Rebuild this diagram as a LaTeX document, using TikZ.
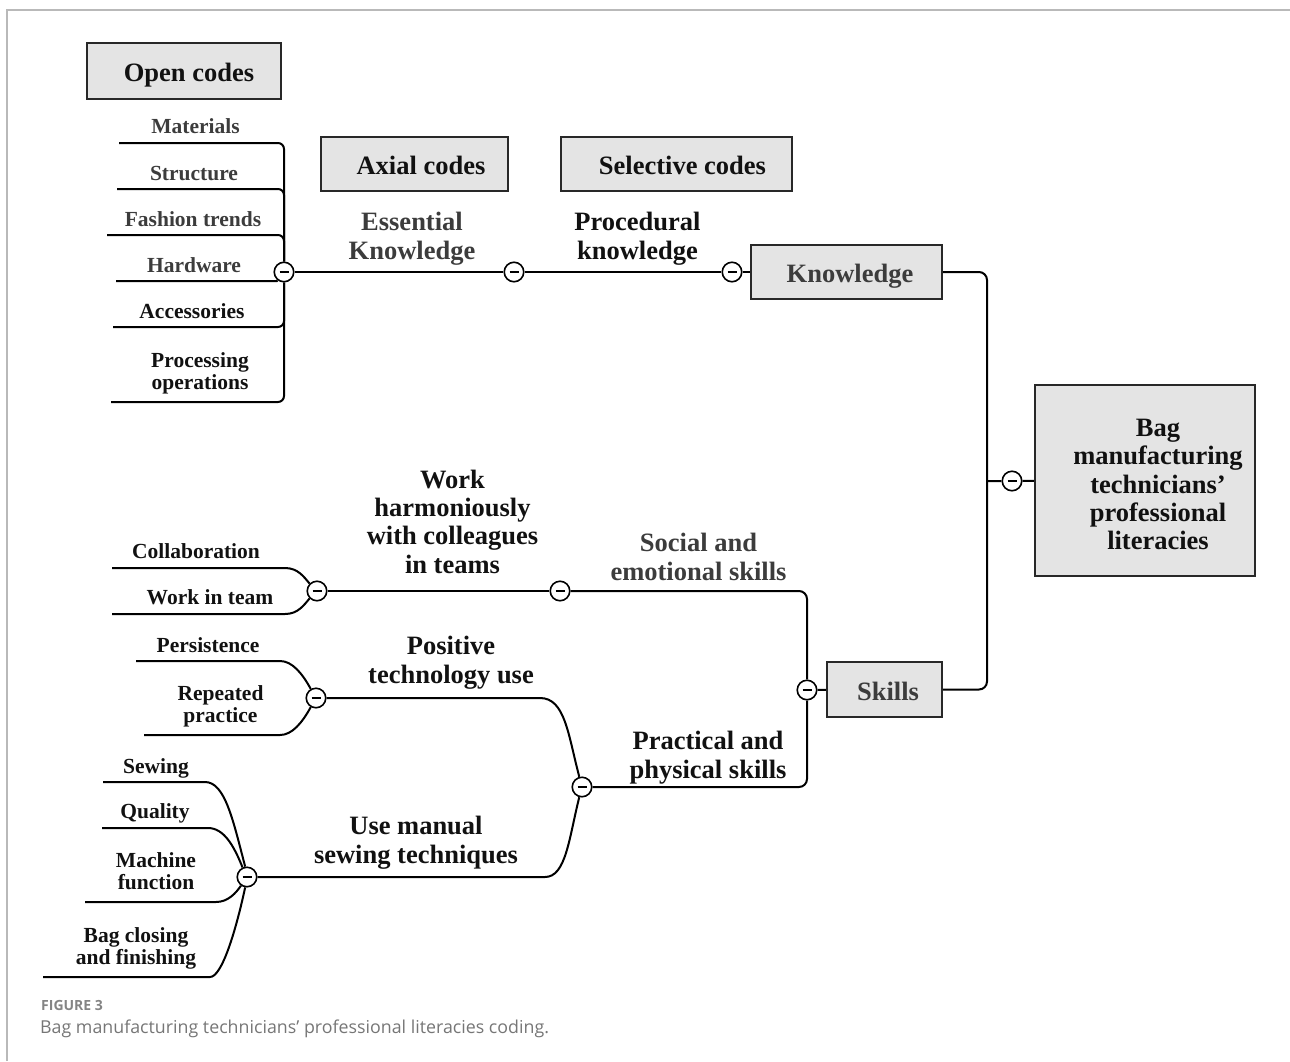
\documentclass[tikz,border=0pt]{standalone}
\usepackage{fontspec}
\setmainfont{Liberation Serif}
\newfontfamily\capfont{Open Sans}
\usetikzlibrary{backgrounds}

\definecolor{boxfill}{RGB}{228,228,228}
\definecolor{boxline}{RGB}{40,40,40}
\definecolor{softink}{RGB}{60,60,60}
\definecolor{ink}{RGB}{17,17,17}
\definecolor{frameline}{RGB}{185,185,185}
\definecolor{captext}{RGB}{118,118,118}

\begin{document}
\begin{tikzpicture}[x=1pt,y=-1pt,
  bigfont/.style={font=\bfseries\fontsize{26.5}{28.3}\selectfont},
  codebox/.style={bigfont, draw=boxline, fill=boxfill, line width=2pt,
    inner sep=0pt, align=center, text=ink},
  onerow/.style={text height=21pt, text depth=0pt},
  big/.style={bigfont, align=center, anchor=base, inner sep=0pt, text=ink},
  leaf/.style={font=\bfseries\fontsize{21.5}{22}\selectfont, align=center,
    anchor=base, inner sep=0pt, text=ink},
  toggle/.style={circle, draw=black, fill=white, line width=1.6pt,
    minimum size=19.5pt, inner sep=0pt,
    path picture={\draw[line width=1.4pt]
      ([xshift=-4.5pt]path picture bounding box.center) --
      ([xshift=4.5pt]path picture bounding box.center);}},
  link/.style={line width=2pt, draw=black}
]
\useasboundingbox (0,0) rectangle (1290,1061);

% page frame
\draw[frameline, line width=2pt] (7,1061) -- (7,10) -- (1290,10);

% column headings
\node[codebox, onerow, minimum width=194pt, minimum height=56pt] (open) at (184,70.5) {\hspace*{10pt}Open codes};
\node[codebox, onerow, minimum width=187pt, minimum height=54pt] (axial) at (414.5,164) {\hspace*{13pt}Axial codes};
\node[codebox, onerow, minimum width=231pt, minimum height=54pt] (selective) at (676.5,164) {\hspace*{12pt}Selective codes};

% core category and selective codes
\node[codebox, minimum width=220pt, minimum height=191pt] (root) at (1145,480.5)
  {\hspace*{26pt}\begin{tabular}{@{}c@{}}\rule{0pt}{34pt}Bag\\manufacturing\\technicians’\\professional\\literacies\end{tabular}};
\node[codebox, onerow, text=softink, minimum width=191pt, minimum height=54pt] (know) at (846.5,272) {\hspace*{7pt}Knowledge};
\node[codebox, onerow, text=softink, minimum width=115pt, minimum height=55pt] (skills) at (884.5,689.5) {\hspace*{7pt}Skills};

% collapse toggles
\node[toggle] (c_root) at (1012,481) {};
\node[toggle] (c_pk) at (732,272) {};
\node[toggle] (c_ek) at (514,272) {};
\node[toggle] (c_ok) at (284,272) {};
\node[toggle] (c_sk) at (807,690) {};
\node[toggle] (c_ws) at (560,591) {};
\node[toggle] (c_co) at (317,591) {};
\node[toggle] (c_pp) at (582,787) {};
\node[toggle] (c_pr) at (316,698) {};
\node[toggle] (c_sw) at (247,877) {};

% axial and selective labels (placed by the baseline of their last line)
\node[big, text=softink] (ek) at (412,259) {Essential\\Knowledge};
\node[big] (pk) at (637.5,259) {Procedural\\knowledge};
\node[big] (ws) at (452.5,573) {Work\\harmoniously\\with colleagues\\in teams};
\node[big, text=softink] (se) at (698.5,580) {Social and\\emotional skills};
\node[big] (pt) at (451,683) {Positive\\technology use};
\node[big] (pp) at (708,778) {Practical and\\physical skills};
\node[big] (um) at (416,863) {Use manual\\sewing techniques};

% open codes
\node[leaf, text=softink] (l_mat) at (195.5,133) {Materials};
\node[leaf, text=softink] (l_str) at (194,180) {Structure};
\node[leaf, text=softink] (l_fas) at (193,226) {Fashion trends};
\node[leaf, text=softink] (l_har) at (194,272) {Hardware};
\node[leaf] (l_acc) at (192,318) {Accessories};
\node[leaf] (l_pro) at (200,389) {Processing\\operations};
\node[leaf] (l_col) at (196,558) {Collaboration};
\node[leaf] (l_wit) at (210,604) {Work in team};
\node[leaf] (l_per) at (208,652) {Persistence};
\node[leaf] (l_rep) at (220.5,722) {Repeated\\practice};
\node[leaf] (l_sew) at (156,773) {Sewing};
\node[leaf] (l_qua) at (155,818) {Quality};
\node[leaf] (l_mac) at (156,889) {Machine\\function};
\node[leaf] (l_bag) at (136,964) {Bag closing\\and finishing};

% free ends of the open-code branches
\coordinate (e_mat) at (119,143);
\coordinate (e_str) at (117,189);
\coordinate (e_fas) at (107,235);
\coordinate (e_har) at (116,281);
\coordinate (e_acc) at (113,327);
\coordinate (e_pro) at (111,402);
\coordinate (e_col) at (112,568);
\coordinate (e_wit) at (112,614);
\coordinate (e_per) at (136,661);
\coordinate (e_rep) at (144,735);
\coordinate (e_sew) at (103,782);
\coordinate (e_qua) at (102,828);
\coordinate (e_mac) at (85,902);
\coordinate (e_bag) at (43,977);
\coordinate (spine) at (987,481);

% caption
\node[anchor=base west, inner sep=0pt, font=\capfont\bfseries\fontsize{14}{16}\selectfont,
  text=captext!90] (figno) at (41,1010) {FIGURE 3};
\node[anchor=base west, inner sep=0pt, font=\capfont\fontsize{17.8}{20}\selectfont,
  text=captext] (caption) at (40,1033) {Bag manufacturing technicians’ professional literacies coding.};

\begin{scope}[on background layer]
\begin{scope}[link]
  % knowledge branch
  \draw[rounded corners=6] (e_mat) -- (284,143) -- (c_ok);
  \draw[rounded corners=6] (e_str) -- (284,189) -- (c_ok);
  \draw[rounded corners=6] (e_fas) -- (284,235) -- (c_ok);
  \draw (e_har) -- (277,281) -- (c_ok);
  \draw[rounded corners=6] (e_acc) -- (284,327) -- (c_ok);
  \draw[rounded corners=6] (e_pro) -- (284,402) -- (c_ok);
  \draw (c_ok) -- (c_ek) -- (c_pk) -- (know);

  % core category spine
  \draw[rounded corners=8] (know.east) -| (spine) |- (skills.east);
  \draw (spine) -- (c_root) -- (root);

  % skills branch
  \draw (c_sk) -- (skills);
  \draw[rounded corners=8] (c_ws) -| (c_sk);
  \draw[rounded corners=8] (c_pp) -| (c_sk);
  \draw (c_co) -- (c_ws);
  \draw (e_col) -- (285,568) .. controls (298,568) and (304,577) .. (c_co.135);
  \draw (e_wit) -- (285,614) .. controls (298,614) and (304,605) .. (c_co.-135);
  \draw (e_per) -- (280,661) .. controls (292,661) and (302,673) .. (c_pr.120);
  \draw (e_rep) -- (280,735) .. controls (292,735) and (302,723) .. (c_pr.-120);
  \draw (c_pr) -- (540,698) .. controls (565,698) and (568,734) .. (c_pp.105);
  \draw (c_sw) -- (545,877) .. controls (566,877) and (569,838) .. (c_pp.-105);
  \draw (e_sew) -- (205,782) .. controls (225,782) and (233,820) .. (c_sw.100);
  \draw (e_qua) -- (208,828) .. controls (224,828) and (234,846) .. (c_sw.115);
  \draw (e_mac) -- (216,902) .. controls (228,902) and (236,893) .. (c_sw.-125);
  \draw (e_bag) -- (210,977) .. controls (222,977) and (236,930) .. (c_sw.-100);
\end{scope}
\end{scope}
\end{tikzpicture}
\end{document}
